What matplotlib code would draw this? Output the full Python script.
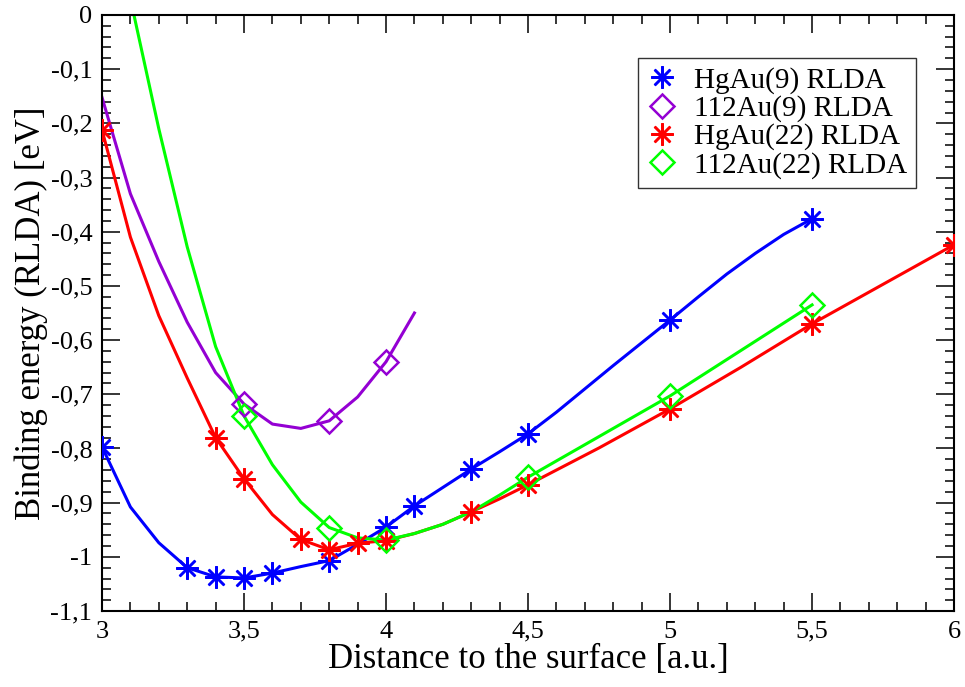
import matplotlib
matplotlib.use("Agg")
import matplotlib.pyplot as plt
from matplotlib.ticker import MultipleLocator, FuncFormatter

# HgAu(9) RLDA
hg9_x = [3.0, 3.3, 3.4, 3.5, 3.6, 3.8, 4.0, 4.1, 4.3, 4.5, 5.0, 5.5]
hg9_y = [-0.797, -1.020, -1.037, -1.039, -1.030, -1.007, -0.945, -0.906, -0.838, -0.773, -0.563, -0.376]
hg9_curve_x = [3.0, 3.1, 3.2, 3.3, 3.4, 3.5, 3.6, 3.7, 3.8, 3.9, 4.0, 4.1, 4.2, 4.3, 4.4, 4.5,
               4.6, 4.7, 4.8, 4.9, 5.0, 5.1, 5.2, 5.3, 5.4, 5.5]
hg9_curve_y = [-0.797, -0.908, -0.974, -1.020, -1.037, -1.039, -1.030, -1.018, -1.007, -0.977, -0.945,
               -0.906, -0.872, -0.838, -0.806, -0.773, -0.733, -0.690, -0.647, -0.605, -0.563, -0.520,
               -0.478, -0.440, -0.405, -0.376]

# 112Au(9) RLDA
e9_x = [3.5, 3.8, 4.0]
e9_y = [-0.718, -0.749, -0.640]
e9_curve_x = [3.0, 3.1, 3.2, 3.3, 3.4, 3.5, 3.6, 3.7, 3.8, 3.9, 4.0, 4.1]
e9_curve_y = [-0.152, -0.330, -0.455, -0.567, -0.660, -0.718, -0.755, -0.763, -0.749, -0.705, -0.640, -0.550]

# HgAu(22) RLDA
hg22_x = [3.0, 3.4, 3.5, 3.7, 3.8, 3.9, 4.0, 4.3, 4.5, 5.0, 5.5, 6.0]
hg22_y = [-0.212, -0.780, -0.856, -0.968, -0.987, -0.975, -0.970, -0.917, -0.867, -0.727, -0.570, -0.424]
hg22_curve_x = [3.0, 3.1, 3.2, 3.3, 3.4, 3.5, 3.6, 3.7, 3.8, 3.9, 4.0, 4.1, 4.2, 4.3, 4.4, 4.5,
                4.75, 5.0, 5.25, 5.5, 6.0]
hg22_curve_y = [-0.212, -0.410, -0.555, -0.670, -0.780, -0.856, -0.922, -0.968, -0.987, -0.975, -0.970,
                -0.957, -0.940, -0.917, -0.893, -0.867, -0.799, -0.727, -0.650, -0.570, -0.424]

# 112Au(22) RLDA
e22_x = [3.5, 3.8, 4.0, 4.5, 5.0, 5.5]
e22_y = [-0.740, -0.946, -0.969, -0.853, -0.703, -0.535]
e22_curve_x = [3.1, 3.2, 3.3, 3.4, 3.5, 3.6, 3.7, 3.8, 3.9, 4.0, 4.1, 4.2, 4.3, 4.4, 4.5, 5.0, 5.5]
e22_curve_y = [0.03, -0.21, -0.428, -0.612, -0.740, -0.830, -0.899, -0.946, -0.965, -0.969, -0.957,
               -0.940, -0.917, -0.886, -0.853, -0.703, -0.535]


def comma(v, pos):
    return ("%g" % round(v, 3)).replace(".", ",")


def main():
    plt.rcParams["font.family"] = ["Liberation Serif", "DejaVu Serif"]
    fig = plt.figure(figsize=(9.65, 6.87), dpi=100)
    ax = fig.add_axes([0.1057, 0.1106, 0.883, 0.8676])

    star = (8, 2, 0)
    lw = 2.2
    series = [
        (hg9_curve_x, hg9_curve_y, hg9_x, hg9_y, "#0000ff", star, 16, "HgAu(9) RLDA"),
        (e9_curve_x, e9_curve_y, e9_x, e9_y, "#9400d3", "D", 12, "112Au(9) RLDA"),
        (hg22_curve_x, hg22_curve_y, hg22_x, hg22_y, "#ff0000", star, 16, "HgAu(22) RLDA"),
        (e22_curve_x, e22_curve_y, e22_x, e22_y, "#00ff00", "D", 12, "112Au(22) RLDA"),
    ]
    handles = []
    for cx, cy, mx, my, col, mk, ms, lab in series:
        ax.plot(cx, cy, color=col, lw=lw, zorder=2)
        h, = ax.plot(mx, my, ls="none", marker=mk, ms=ms, mfc="none", mec=col, mew=1.8,
                     label=lab, zorder=3)
        handles.append(h)

    ax.set_xlim(3, 6)
    ax.set_ylim(-1.1, 0)
    ax.xaxis.set_major_locator(MultipleLocator(0.5))
    ax.xaxis.set_minor_locator(MultipleLocator(0.1))
    ax.yaxis.set_major_locator(MultipleLocator(0.1))
    ax.yaxis.set_minor_locator(MultipleLocator(0.02))
    ax.xaxis.set_major_formatter(FuncFormatter(comma))
    ax.yaxis.set_major_formatter(FuncFormatter(comma))
    ax.tick_params(which="both", direction="in", top=True, right=True, width=1.1, labelsize=19)
    ax.tick_params(which="major", length=13, pad=7)
    ax.tick_params(which="minor", length=6.5)
    for s in ax.spines.values():
        s.set_linewidth(1.5)

    ax.set_xlabel("Distance to the surface [a.u.]", fontsize=25, labelpad=0)
    ax.set_ylabel("Binding energy (RLDA) [eV]", fontsize=25, labelpad=2)

    leg = ax.legend(handles=handles, loc="upper right", bbox_to_anchor=(0.949, 0.9156),
                    bbox_transform=fig.transFigure, borderaxespad=0, fontsize=21, frameon=True,
                    fancybox=False, edgecolor="black", handlelength=1.0, handletextpad=0.6,
                    borderpad=0.3, labelspacing=0.05)
    leg.get_frame().set_linewidth(1.0)

    fig.savefig("out.png", dpi=100)


if __name__ == "__main__":
    main()
